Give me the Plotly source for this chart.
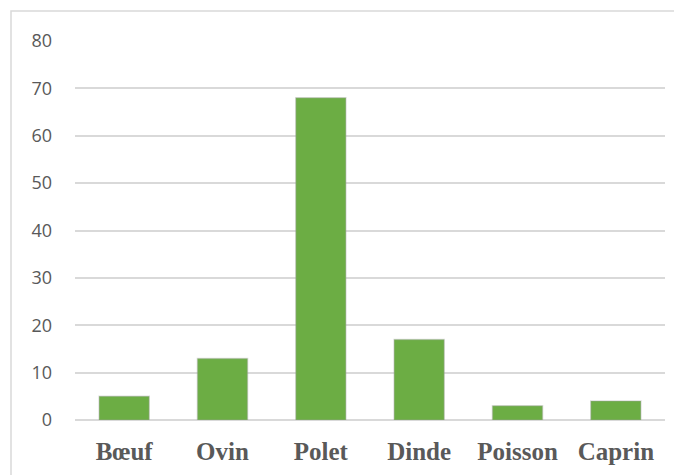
import plotly.graph_objects as go

categories = ["Bœuf", "Ovin", "Polet", "Dinde", "Poisson", "Caprin"]
values = [5, 13, 68, 17, 3, 4]
y_ticks = [0, 10, 20, 30, 40, 50, 60, 70, 80]

fig = go.Figure()
fig.add_trace(go.Bar(
    x=categories, y=values,
    marker=dict(color="#6cad44", line=dict(color="rgba(160,160,160,0.35)", width=1.5)),
    hoverinfo="x+y",
))

fig.update_layout(
    width=674, height=467,
    margin=dict(l=67, r=17, t=33, b=55),
    plot_bgcolor="white", paper_bgcolor="white",
    bargap=0.49,
    showlegend=False,
    xaxis=dict(
        showgrid=False, showline=False, zeroline=False, automargin=False,
        tickfont=dict(family="Liberation Serif", size=25, color="#595959", weight="bold"),
        ticks="", ticklabelstandoff=14,
    ),
    yaxis=dict(
        range=[0, 80], tickvals=y_ticks, automargin=False,
        showgrid=True, gridcolor="#d9d9d9", gridwidth=1.5,
        zeroline=True, zerolinecolor="#d9d9d9", zerolinewidth=2,
        showline=False, ticks="",
        tickfont=dict(family="Open Sans", size=18, color="#595959"),
        ticklabelstandoff=22,
    ),
    shapes=[
        dict(type="rect", xref="paper", yref="paper",
             x0=(11 - 75) / 590, x1=(690 - 75) / 590,
             y0=-0.3, y1=(420 - 11) / 379,
             line=dict(color="#d9d9d9", width=1.5), fillcolor="rgba(0,0,0,0)", layer="below"),
    ],
)

fig.write_html("out.html")
